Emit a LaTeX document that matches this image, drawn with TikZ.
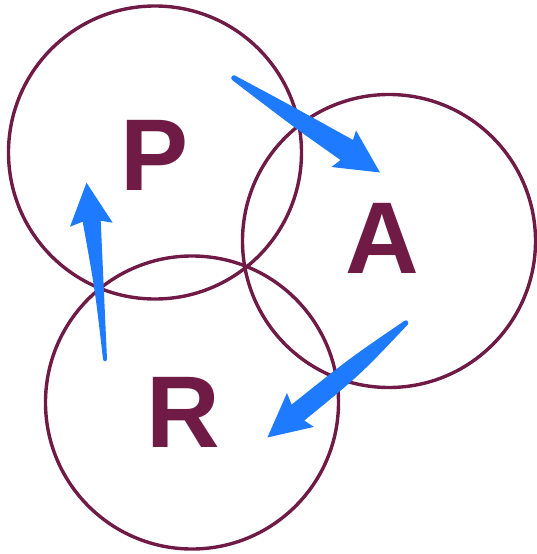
\documentclass[tikz,border=0pt]{standalone}
\usepackage{fontspec}
\setmainfont{Liberation Sans}
\definecolor{maroon}{RGB}{112,27,70}
\definecolor{arrowblue}{RGB}{30,123,255}
\begin{document}
\begin{tikzpicture}[x=1pt,y=-1pt,
  ring/.style={circle,draw=maroon,line width=3.4pt,minimum size=293pt,inner sep=0pt},
  letter/.style={anchor=base,inner sep=0pt,text=maroon,font=\fontsize{102}{102}\selectfont\bfseries},
  arrowfill/.style={fill=arrowblue}]
\useasboundingbox (0,0) rectangle (536,554);
\node[ring] (cP) at (155,152.5) {};
\node[ring] (cA) at (389,241) {};
\node[ring] (cR) at (192,402.5) {};
\node[letter] (P) at (155,190.8) {P};
\node[letter] (A) at (382,273.9) {A};
\node[letter] (R) at (183,447.7) {R};
% P -> A
\fill[arrowfill] (234.5,75.3) .. controls (290,105) .. (353,140) -- (356,130.5) -- (380,172.5) -- (331.5,167) -- (340.5,160)
  .. controls (295,128) .. (232.5,80.3) .. controls (230.5,79) and (231,75) .. cycle;
% A -> R
\fill[arrowfill] (404.5,320.8) .. controls (350,358) .. (291.6,404.6) -- (287,393) -- (267.4,437.5) -- (313.8,426.9) -- (304.3,420.5)
  .. controls (360,375) .. (407.8,324.5) .. controls (409.5,322) and (406.5,319.2) .. cycle;
% R -> P
\fill[arrowfill] (103,359) .. controls (95,290) .. (82.7,221.7) -- (70,226.7) -- (86.5,182.7) -- (112.7,222.7) -- (100.7,220.7)
  .. controls (103,290) .. (107,359) .. controls (107,362) and (103,362) .. cycle;
\end{tikzpicture}
\end{document}
